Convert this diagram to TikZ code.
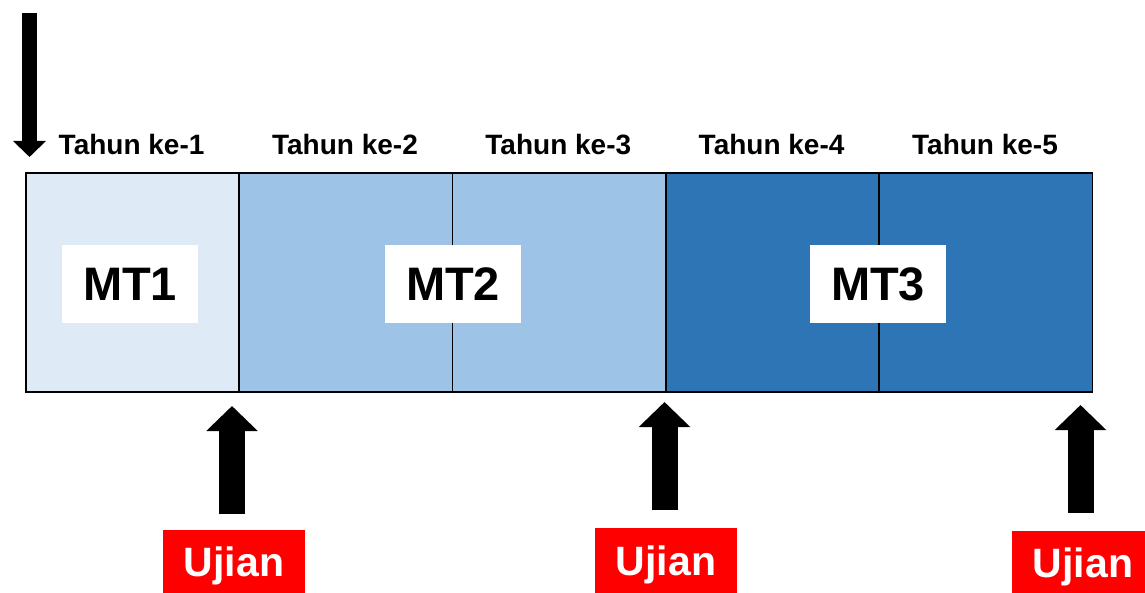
\documentclass[tikz,border=0pt]{standalone}
\usepackage{fontspec}
\setmainfont{Liberation Sans}
\usetikzlibrary{arrows.meta}
\definecolor{cA}{HTML}{DEEAF6}
\definecolor{cB}{HTML}{9DC3E6}
\definecolor{cC}{HTML}{2E75B6}
\definecolor{ured}{HTML}{FF0000}
\begin{document}
\begin{tikzpicture}[x=1pt,y=-1pt,
  cell/.style={draw=black, line width=1.8pt, minimum width=213.3pt, minimum height=219pt, inner sep=0pt, anchor=north west},
  mtlabel/.style={fill=white, minimum width=136pt, minimum height=78pt, inner sep=0pt, text height=33pt, text depth=0pt, font=\fontsize{47}{47}\selectfont\bfseries},
  yearlbl/.style={inner sep=0pt, text height=20pt, text depth=0pt, font=\fontsize{28}{28}\selectfont\bfseries},
  ujian/.style={fill=ured, text=white, minimum width=142pt, minimum height=63pt, inner sep=0pt, text depth=0pt, font=\fontsize{41}{41}\selectfont\bfseries},
  blockarrow/.style={line width=26pt, -{Triangle[width=50pt,length=25pt]}}
]
\useasboundingbox (0,0) rectangle (1145,593);
% cells
\node[cell, fill=cA] (y1) at (25,172) {};
\node[cell, fill=cB] (y2) at (238.3,172) {};
\node[cell, fill=cB] (y3) at (451.6,172) {};
\node[cell, fill=cC] (y4) at (665,172) {};
\node[cell, fill=cC] (y5) at (878.3,172) {};
% year labels
\node[yearlbl] (t1) at (131.6,145) {Tahun ke-1};
\node[yearlbl] (t2) at (345,145) {Tahun ke-2};
\node[yearlbl] (t3) at (558.3,145) {Tahun ke-3};
\node[yearlbl] (t4) at (771.6,145) {Tahun ke-4};
\node[yearlbl] (t5) at (985,145) {Tahun ke-5};
% MT labels
\node[mtlabel] (m1) at (130,284) {MT1};
\node[mtlabel] (m2) at (453,284) {MT2};
\node[mtlabel] (m3) at (878,284) {MT3};
% Ujian boxes
\node[ujian] (u1) at (234,561.5) {Ujian};
\node[ujian, minimum height=65pt] (u2) at (666,560.5) {Ujian};
\node[ujian] (u3) at (1083,562.5) {Ujian};
% top arrow
\coordinate (s0) at (29.5,13);
\coordinate (e0) at (29.5,157);
\draw[line width=15pt, -{Triangle[width=32pt,length=16pt]}] (s0) -- (e0);
% bottom arrows
\coordinate (s1) at (232,514);
\coordinate (e1) at (232,406);
\coordinate (s2) at (664.5,510);
\coordinate (e2) at (664.5,402);
\coordinate (s3) at (1080.5,513);
\coordinate (e3) at (1080.5,405);
\draw[blockarrow] (s1) -- (e1);
\draw[blockarrow] (s2) -- (e2);
\draw[blockarrow] (s3) -- (e3);
\end{tikzpicture}
\end{document}
